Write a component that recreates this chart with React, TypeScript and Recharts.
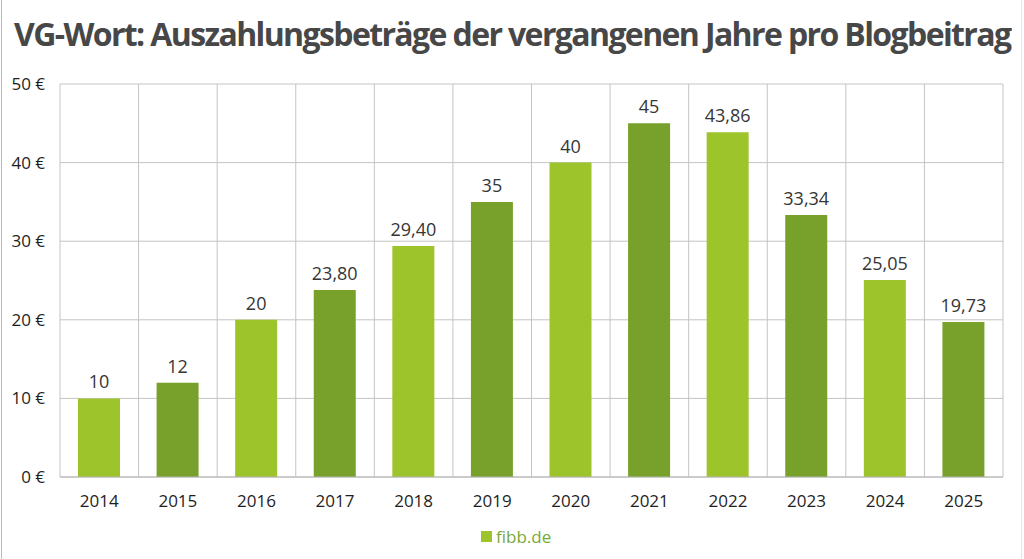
import React from 'react';
import { BarChart, Bar, XAxis, YAxis, CartesianGrid, LabelList, Cell } from 'recharts';

const years = ['2014', '2015', '2016', '2017', '2018', '2019', '2020', '2021', '2022', '2023', '2024', '2025'];
const amounts = [10, 12, 20, 23.8, 29.4, 35, 40, 45, 43.86, 33.34, 25.05, 19.73];
const amountLabels = ['10', '12', '20', '23,80', '29,40', '35', '40', '45', '43,86', '33,34', '25,05', '19,73'];
const yTicks = [0, 10, 20, 30, 40, 50];

const LIGHT = '#9dc42b';
const DARK = '#77a12a';
const FONT = '"Open Sans", "Noto Sans", sans-serif';

const chartData = years.map((year, i) => ({
  year,
  amount: amounts[i],
  label: amountLabels[i],
}));

const App: React.FC = () => {
  return (
    <div
      style={{
        position: 'fixed',
        left: 0,
        top: 0,
        width: 1024,
        height: 559,
        background: '#fff',
        fontFamily: FONT,
        overflow: 'hidden',
      }}
    >
      <div style={{ position: 'absolute', left: 1, top: 0, width: 1, height: 559, background: '#bdbdbd' }} />
      <div style={{ position: 'absolute', left: 1021, top: 0, width: 1, height: 559, background: '#e4e4e4' }} />

      <div
        style={{
          position: 'absolute',
          left: 14,
          top: 12,
          width: 1006,
          whiteSpace: 'nowrap',
          fontWeight: 700,
          fontSize: 32,
          lineHeight: '44px',
          letterSpacing: '-1.62px',
          color: '#474747',
        }}
      >
        VG-Wort: Auszahlungsbeträge der vergangenen Jahre pro Blogbeitrag
      </div>

      <div style={{ position: 'absolute', left: 0, top: 0 }}>
        <BarChart
          width={1024}
          height={559}
          data={chartData}
          margin={{ top: 84, right: 21, left: 0, bottom: 52 }}
          barCategoryGap={0}
        >
          <CartesianGrid
            stroke="#c4c4c4"
            verticalCoordinatesGenerator={({ offset }: any) =>
              years.map((_, i) => offset.left + (i * offset.width) / years.length).concat(offset.left + offset.width)
            }
          />
          <XAxis
            dataKey="year"
            height={30}
            tickLine={false}
            axisLine={{ stroke: '#b5b5b5' }}
            tick={{ fill: '#1e1e1e', fontSize: 17, fontFamily: FONT }}
            tickMargin={12}
          />
          <YAxis
            width={60}
            domain={[0, 50]}
            ticks={yTicks}
            tickFormatter={(v: number) => `${v} €`}
            tickLine={false}
            axisLine={false}
            tick={{ fill: '#1e1e1e', fontSize: 17, fontFamily: FONT }}
            tickMargin={9}
          />
          <Bar dataKey="amount" barSize={42} isAnimationActive={false}>
            {chartData.map((_, i) => (
              <Cell key={years[i]} fill={i % 2 === 0 ? LIGHT : DARK} />
            ))}
            <LabelList
              dataKey="label"
              position="top"
              offset={10}
              fill="#363636"
              fontSize={18}
              fontFamily={FONT}
            />
          </Bar>
        </BarChart>
      </div>

      <div
        style={{
          position: 'absolute',
          left: 481,
          top: 525,
          display: 'flex',
          alignItems: 'center',
          fontSize: 17,
          color: '#78a83a',
        }}
      >
        <span style={{ display: 'inline-block', width: 11, height: 11, background: LIGHT, marginRight: 4 }} />
        <span>fibb.de</span>
      </div>
    </div>
  );
};

export default App;
